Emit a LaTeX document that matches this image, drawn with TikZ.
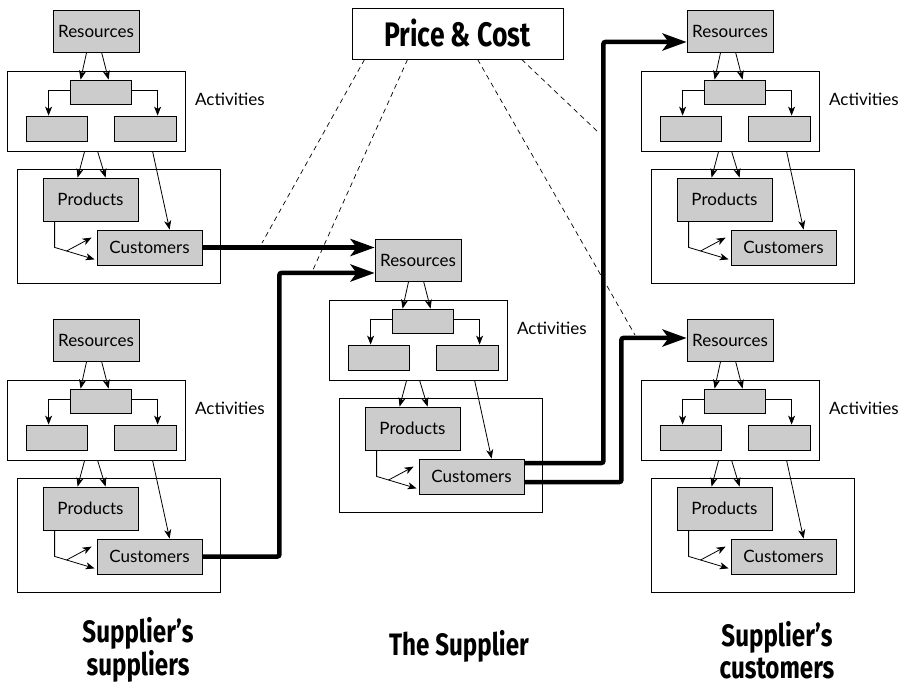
\documentclass[tikz,border=0pt]{standalone}
\usepackage{fontspec}
\setmainfont{Lato}
\newfontfamily\headfont[FakeStretch=0.78]{Fira Sans}
\usetikzlibrary{arrows.meta,calc}
\definecolor{cellgray}{RGB}{204,204,204}

% one firm: resources, activities, products and customers
\newcommand{\chainunit}[3]{%
  \begin{scope}[shift={(#2,#3)}]
  \node [framebox, minimum width=178pt, minimum height=80pt] (#1act) at (96,111) {};
  \node [framebox, minimum width=203pt, minimum height=114pt] (#1frame) at (118.5,226) {};
  \node [cellbox, minimum width=86pt, minimum height=42pt] (#1res) at (96,31) {Resources};
  \node [cellbox, minimum width=61pt, minimum height=24pt] (#1top) at (100.5,92) {};
  \node [cellbox, minimum width=61pt, minimum height=25pt] (#1left) at (56.5,128.5) {};
  \node [cellbox, minimum width=62pt, minimum height=25pt] (#1right) at (145,128.5) {};
  \node [anchor=west, inner sep=0pt, font=\boxtext] (#1lbl) at (195,99) {Activities};
  \node [cellbox, minimum width=95pt, minimum height=43pt] (#1prod) at (90.5,199.5) {Products};
  \node [cellbox, minimum width=105pt, minimum height=35pt] (#1cust) at (149.5,247.5) {Customers};
  \draw [flow] ([xshift=34pt]#1res.south west) -- ([xshift=11pt]#1top.north west);
  \draw [flow] ([xshift=49pt]#1res.south west) -- ([xshift=39pt]#1top.north west);
  \draw [flow] ([yshift=2pt]#1top.west) -| ([xshift=23pt]#1left.north west);
  \draw [flow] ([yshift=2pt]#1top.east) -| ([xshift=44pt]#1right.north west);
  \draw [flow] ([xshift=78pt]#1act.south west) -- ([xshift=35pt]#1prod.north west);
  \draw [flow] ([xshift=91pt]#1act.south west) -- ([xshift=63pt]#1prod.north west);
  \draw [flow] ([xshift=146pt]#1act.south west) -- ([xshift=73pt]#1cust.north west);
  \draw [flow] ([xshift=12pt]#1prod.south west) -- ([xshift=12pt,yshift=-26pt]#1prod.south west)
    -- coordinate [pos=0.3] (#1fork) ([xshift=-2pt,yshift=6pt]#1cust.south west);
  \draw [flow] (#1fork) -- ([xshift=-5pt,yshift=-8pt]#1cust.north west);
  \end{scope}}
\newcommand{\boxtext}{\fontsize{17}{20}\selectfont}

\begin{document}
\begin{tikzpicture}[x=1pt, y=-1pt,
  cellbox/.style={draw, fill=cellgray, line width=0.8pt, inner sep=0pt, font=\boxtext},
  framebox/.style={draw, line width=0.8pt, inner sep=0pt},
  flow/.style={line width=0.8pt, -{Stealth[length=9pt, width=7pt, inset=2.5pt]}},
  supply/.style={line width=4.5pt, rounded corners=2pt, -{Stealth[length=24pt, width=17pt, inset=6pt]}},
  link/.style={line width=0.7pt, dash pattern=on 5pt off 4pt},
  title/.style={font=\headfont\bfseries\fontsize{31}{32}\selectfont, align=center, inner sep=0pt}]
  \useasboundingbox (0,0) rectangle (906,687);

  \chainunit{u1}{0}{0}
  \chainunit{u2}{0}{309}
  \chainunit{u0}{322}{229}
  \chainunit{u3}{634}{0}
  \chainunit{u4}{634}{309}

  \node [framebox, minimum width=211pt, minimum height=51pt, font=\headfont\bfseries\fontsize{34}{36}\selectfont] (pc) at (457.5,33.5) {Price \& Cost};

  % dashed links to the flows
  \coordinate (d1) at (262,243);
  \coordinate (d2) at (312,272);
  \coordinate (d3) at (635,335);
  \coordinate (d4) at (598,132);
  \draw [link] ([xshift=13pt]pc.south west) -- (d1);
  \draw [link] ([xshift=56pt]pc.south west) -- (d2);
  \draw [link] ([xshift=126pt]pc.south west) -- (d3);
  \draw [link] ([xshift=170pt]pc.south west) -- (d4);

  % flows between the firms
  \draw [supply] (u1cust.east) -- (u1cust.east -| u0res.west);
  \draw [supply] (u2cust.east) -- ++(77,0) |- ([yshift=-13pt]u0res.west);
  \draw [supply] ([yshift=13.5pt]u0cust.east) -- ++(79,0) |- ([yshift=-11pt]u3res.west);
  \draw [supply] ([yshift=-5.5pt]u0cust.east) -- ++(97,0) |- ([yshift=2pt]u4res.west);

  \node [title] (left) at (138,650) {Supplier’s\\suppliers};
  \node [title] (mid) at (459,646) {The Supplier};
  \node [title] (right) at (777,650) {Supplier’s\\customers};
\end{tikzpicture}
\end{document}
